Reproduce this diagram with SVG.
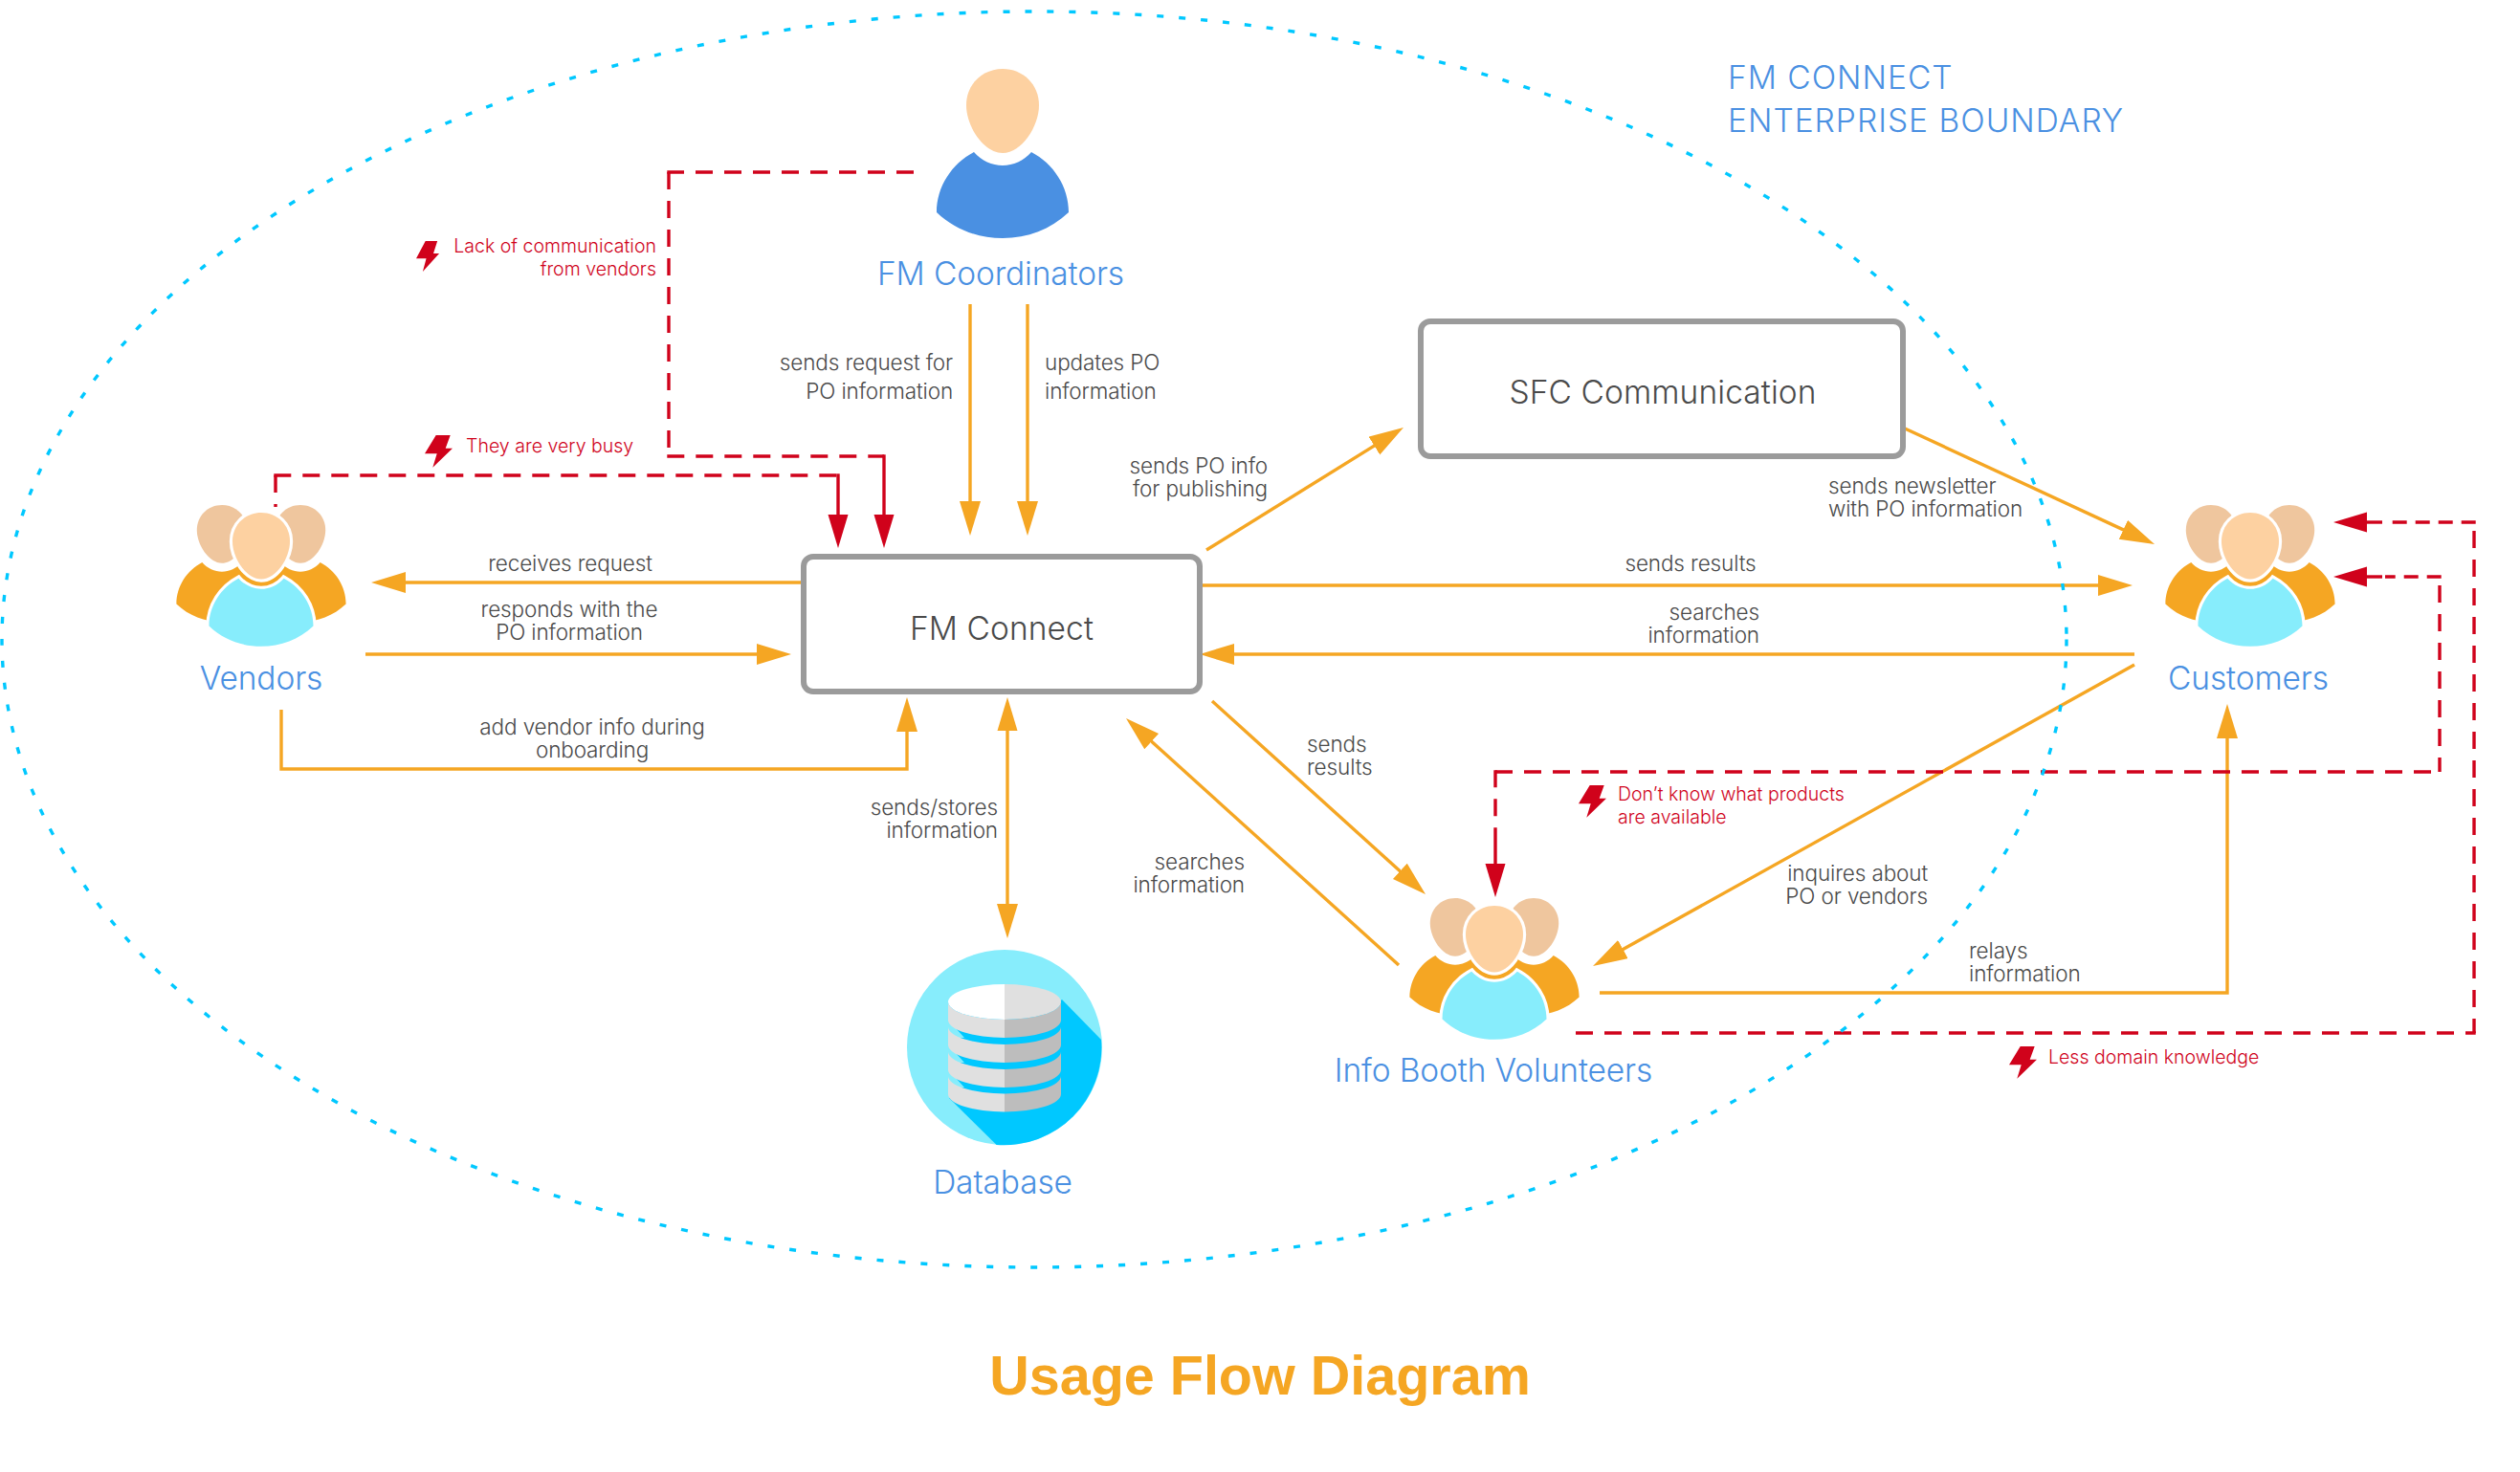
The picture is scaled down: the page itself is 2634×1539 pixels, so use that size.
<svg xmlns="http://www.w3.org/2000/svg" width="2634" height="1539" viewBox="0 0 2634 1539">
<style>
text{font-family:"Inter","Liberation Sans",sans-serif;font-weight:300}
.lbl{font-size:22.5px;fill:#4a4a4a;letter-spacing:-.12px}
.end{text-anchor:end}
.mid{text-anchor:middle}
.red{font-size:19.5px;fill:#D0021B;letter-spacing:.02px}
.node{font-size:33.5px;fill:#4A90E2;text-anchor:middle;letter-spacing:-.12px}
.box{font-size:33.5px;fill:#4a4a4a;text-anchor:middle;letter-spacing:.1px}
.bound{font-size:33.5px;fill:#4A90E2;letter-spacing:1px}
.title{font-family:"Liberation Sans",sans-serif;font-size:57.5px;font-weight:700;fill:#F5A623;text-anchor:middle}
.o{fill:none;stroke:#F5A623;stroke-width:3.4}
.oa{marker-end:url(#ao)}
.r{fill:none;stroke:#D0021B;stroke-width:3.4}
.d{stroke-dasharray:18 12}
.ds{stroke-dasharray:15 9}
.ra{marker-end:url(#ar)}
.rect{fill:#fff;stroke:#9B9B9B;stroke-width:6}
.headc{fill:#FDD1A1}
.heads{fill:#EFC69E}
.bods{fill:#F5A623}
.bodc{fill:#87EDFC}
.halo{stroke:#fff;stroke-width:8;paint-order:stroke}
</style>
<defs>
<marker id="ao" markerUnits="userSpaceOnUse" markerWidth="38" markerHeight="24" refX="16" refY="11" orient="auto"><path d="M0,0L36,11L0,22Z" fill="#F5A623"/></marker>
<marker id="ar" markerUnits="userSpaceOnUse" markerWidth="38" markerHeight="24" refX="15" refY="11" orient="auto"><path d="M0,0.5L35,11L0,21.5Z" fill="#D0021B"/></marker>
<path id="head" d="M0,0C21,0 38,16 38,38C38,60 20,88 0,88C-20,88 -38,60 -38,38C-38,16 -21,0 0,0Z"/>
<path id="body" d="M-30,87C-22,96 -11,101 0,101C11,101 22,96 30,87C53,99 69,123 69,150C50,168 26,177 0,177C-26,177 -50,168 -69,150C-69,123 -53,99 -30,87Z"/>
<g id="team">
<g transform="translate(-41,-8) scale(.69)"><use href="#head" class="heads"/><use href="#body" class="bods"/></g>
<g transform="translate(41,-8) scale(.69)"><use href="#head" class="heads"/><use href="#body" class="bods"/></g>
<g transform="scale(.79)"><use href="#body" class="bodc halo"/><use href="#head" class="headc halo"/></g>
</g>
<path id="bolt" d="M11.7,0L26.7,0L21.7,13.7L29,13.7L8.3,33.7L12.7,19.3L0,19.3Z" fill="#D0021B"/>
</defs>
<rect width="2634" height="1539" fill="#fff"/>

<g id="connectors">
<path class="o oa" d="M1014,318V540"/>
<path class="o oa" d="M1074,318V540"/>
<path class="o oa" d="M839,609H408"/>
<path class="o oa" d="M382,684H807"/>
<path class="o oa" d="M294,742V804H948V749"/>
<path class="o oa" d="M1053,746V961"/>
<path fill="#F5A623" d="M1053,729L1042.5,764H1063.5Z"/>
<path class="o oa" d="M1261,575L1450,457.6"/>
<path class="o oa" d="M1991,448L2233.9,560.6"/>
<path class="o oa" d="M1257,612H2209"/>
<path class="o oa" d="M2231,684H1274"/>
<path class="o oa" d="M2231,695L1682.5,1000.3"/>
<path class="o oa" d="M1267,733L1475.2,921.6"/>
<path class="o oa" d="M1462,1009L1191.8,764.4"/>
<path class="o oa" d="M1672,1038H2328V756"/>
<path class="r d" d="M288,497V530"/>
<path class="r d" d="M286.3,497H876"/>
<path class="r ra" d="M876,495.3V553"/>
<path class="r d" d="M955,180H697.3"/>
<path class="r d" d="M699,180V468"/>
<path class="r d" d="M697.3,477H909"/>
<path class="r" d="M909,477H924"/>
<path class="r ra" d="M924,475.3V553"/>
<path class="r d" d="M1647,1080H2587.7"/>
<path class="r d" d="M2586,555V1080"/>
<path class="r ds" d="M2587.7,546H2498"/>
<path class="r ra" d="M2490,546H2459"/>
<path class="r d" d="M1563,805.3V880"/>
<path class="r ra" d="M1563,880V918"/>
<path class="r d" d="M1563,807H2542"/>
<path class="r d" d="M2550,612V807"/>
<path class="r ds" d="M2551.7,603H2493"/>
<path class="r ra" d="M2490,603H2459"/>
</g>

<g id="boundary"><ellipse cx="1081" cy="668.5" rx="1079" ry="656.5" fill="none" stroke="#00C8FF" stroke-width="3.4" stroke-dasharray="7 16"/></g>

<g id="fm-coordinators">
<g transform="translate(1048,72)"><use href="#head" class="headc"/><use href="#body" fill="#4A90E2"/></g>
<text class="node" x="1046" y="298">FM Coordinators</text>
</g>
<g id="vendors"><use href="#team" x="273" y="536"/><text class="node" x="273" y="721">Vendors</text></g>
<g id="customers"><use href="#team" x="2352" y="536"/><text class="node" x="2350" y="721">Customers</text></g>
<g id="info-booth"><use href="#team" x="1562" y="947"/><text class="node" x="1561" y="1131">Info Booth Volunteers</text></g>

<g id="fm-connect"><rect class="rect" x="840" y="582" width="414" height="141" rx="10"/><text class="box" x="1047" y="669">FM Connect</text></g>
<g id="sfc"><rect class="rect" x="1485" y="336" width="504" height="141" rx="10"/><text class="box" x="1738" y="422">SFC Communication</text></g>

<g id="database">
<circle cx="1050" cy="1095" r="102" fill="#87EDFC"/>
<path fill="#00C8FF" d="M1110,1045L1151,1087A102,102 0 0 1 1041.6,1197L992,1148Z"/>
<path fill="#00C8FF" d="M991,1047H1109V1144H991Z"/>
<path fill="#87EDFC" d="M991,1066L1008,1085H991Z M991,1092L1008,1111H991Z M991,1118L1008,1137H991Z"/>
<g fill="#E0E0E0">
<path d="M991,1047.5V1066.5A59,18.5 0 0 0 1050,1085V1066A59,18.5 0 0 1 991,1047.5Z"/>
<path d="M991,1073.5V1092.5A59,18.5 0 0 0 1050,1111V1092A59,18.5 0 0 1 991,1073.5Z"/>
<path d="M991,1099.5V1118.5A59,18.5 0 0 0 1050,1137V1118A59,18.5 0 0 1 991,1099.5Z"/>
<path d="M991,1125V1144A59,18.5 0 0 0 1050,1162.5V1143.5A59,18.5 0 0 1 991,1125Z"/>
</g>
<g fill="#BDBDBD">
<path d="M1109,1047.5V1066.5A59,18.5 0 0 1 1050,1085V1066A59,18.5 0 0 0 1109,1047.5Z"/>
<path d="M1109,1073.5V1092.5A59,18.5 0 0 1 1050,1111V1092A59,18.5 0 0 0 1109,1073.5Z"/>
<path d="M1109,1099.5V1118.5A59,18.5 0 0 1 1050,1137V1118A59,18.5 0 0 0 1109,1099.5Z"/>
<path d="M1109,1125V1144A59,18.5 0 0 1 1050,1162.5V1143.5A59,18.5 0 0 0 1109,1125Z"/>
</g>
<path fill="#fff" d="M1050,1029A59,18.5 0 0 0 1050,1066Z"/>
<path fill="#E0E0E0" d="M1050,1029A59,18.5 0 0 1 1050,1066Z"/>
<text class="node" x="1048" y="1248">Database</text>
</g>

<g id="labels">
<text class="lbl end"><tspan x="996" y="387">sends request for</tspan><tspan x="996" y="417">PO information</tspan></text>
<text class="lbl"><tspan x="1092" y="387">updates PO</tspan><tspan x="1092" y="417">information</tspan></text>
<text class="lbl end"><tspan x="1325" y="495">sends PO info</tspan><tspan x="1325" y="519">for publishing</tspan></text>
<text class="lbl"><tspan x="1911" y="516">sends newsletter</tspan><tspan x="1911" y="540">with PO information</tspan></text>
<text class="lbl mid" x="1767" y="597">sends results</text>
<text class="lbl end"><tspan x="1839" y="648">searches</tspan><tspan x="1839" y="672">information</tspan></text>
<text class="lbl mid" x="596" y="597">receives request</text>
<text class="lbl mid"><tspan x="595" y="645">responds with the</tspan><tspan x="595" y="669">PO information</tspan></text>
<text class="lbl mid"><tspan x="619" y="768">add vendor info during</tspan><tspan x="619" y="792">onboarding</tspan></text>
<text class="lbl end"><tspan x="1043" y="852">sends/stores</tspan><tspan x="1043" y="876">information</tspan></text>
<text class="lbl"><tspan x="1366" y="786">sends</tspan><tspan x="1366" y="810">results</tspan></text>
<text class="lbl end"><tspan x="1301" y="909">searches</tspan><tspan x="1301" y="933">information</tspan></text>
<text class="lbl end"><tspan x="2015" y="921">inquires about</tspan><tspan x="2015" y="945">PO or vendors</tspan></text>
<text class="lbl"><tspan x="2058" y="1002">relays</tspan><tspan x="2058" y="1026">information</tspan></text>
</g>

<g id="issues">
<use href="#bolt" transform="translate(435,252) scale(.83,.95)"/>
<text class="red end"><tspan x="686" y="264">Lack of communication</tspan><tspan x="686" y="288">from vendors</tspan></text>
<use href="#bolt" x="444" y="455"/>
<text class="red" x="487" y="473">They are very busy</text>
<use href="#bolt" x="1650" y="821"/>
<text class="red"><tspan x="1691" y="837">Don’t know what products</tspan><tspan x="1691" y="861">are available</tspan></text>
<use href="#bolt" x="2100" y="1094"/>
<text class="red" x="2141" y="1112">Less domain knowledge</text>
</g>

<text class="bound"><tspan x="1806" y="93">FM CONNECT</tspan><tspan x="1806" y="138">ENTERPRISE BOUNDARY</tspan></text>
<text class="title" x="1317" y="1458">Usage Flow Diagram</text>
</svg>
